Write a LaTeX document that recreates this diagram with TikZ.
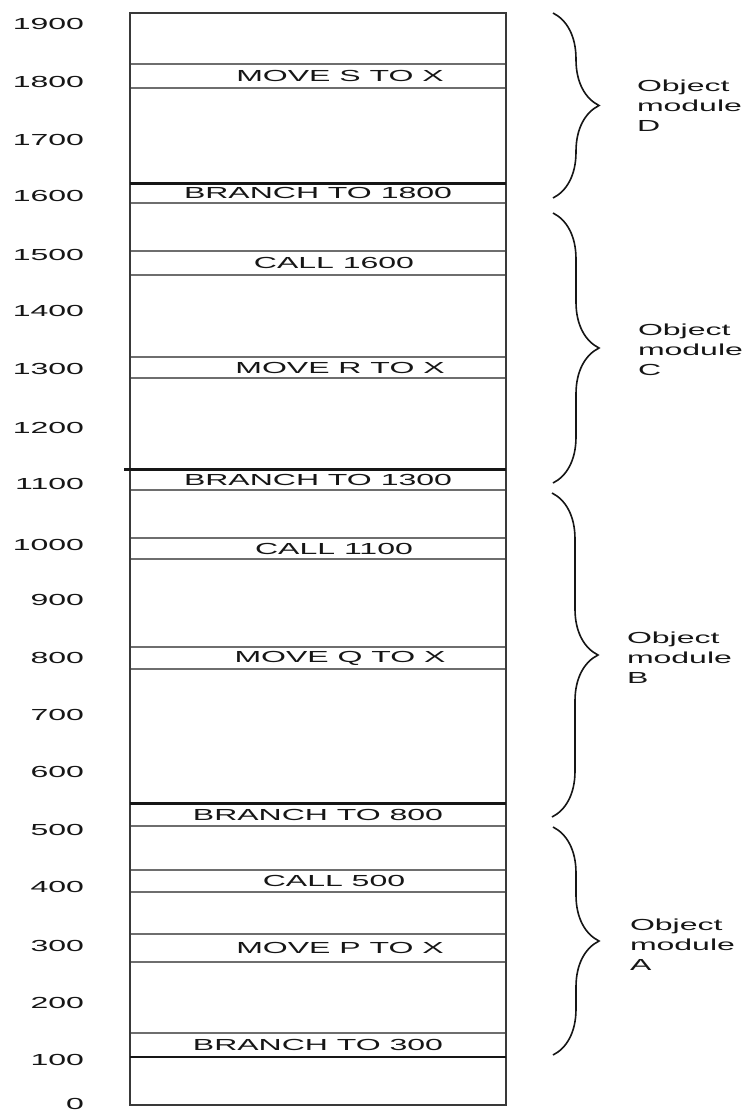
\documentclass[tikz,border=0pt]{standalone}
\usepackage{fontspec}
\setmainfont{Liberation Sans}
\usepackage{graphicx}
\usetikzlibrary{decorations.pathreplacing}
\definecolor{mapink}{HTML}{161616}
\definecolor{mapline}{HTML}{6E6E6E}
\newcommand{\wide}[1]{\scalebox{2}[1]{#1}}
\newcommand{\objmod}[1]{\wide{\begin{tabular}{@{}l@{}}Object\\module\\#1\end{tabular}}}

\begin{document}
\begin{tikzpicture}[
  x=1pt,y=-1pt,
  every node/.style={font=\fontsize{16}{20}\selectfont,text=mapink,inner sep=0pt,outer sep=0pt},
  slot/.style={draw=mapline,line width=1.8pt,minimum width=376pt,anchor=north west},
  colbox/.style={draw=mapink!85,line width=1.5pt,minimum width=376pt,minimum height=1092pt,anchor=north west},
  split/.style={draw=mapink,line width=3pt},
  tick/.style={anchor=east},
  modtext/.style={anchor=west},
  modbrace/.style={draw=mapink,line width=1.6pt,decorate,decoration={brace,amplitude=46pt}}
]
\fill[white] (0,0) rectangle (751,1112);
\useasboundingbox (0,0) rectangle (751,1112);

% address scale
\node[tick] (t1900) at (84,24) {\wide{1900}};
\node[tick] (t1800) at (84,82) {\wide{1800}};
\node[tick] (t1700) at (84,140) {\wide{1700}};
\node[tick] (t1600) at (84,196) {\wide{1600}};
\node[tick] (t1500) at (84,255) {\wide{1500}};
\node[tick] (t1400) at (84,311) {\wide{1400}};
\node[tick] (t1300) at (84,369) {\wide{1300}};
\node[tick] (t1200) at (84,428) {\wide{1200}};
\node[tick] (t1100) at (84,484) {\wide{1100}};
\node[tick] (t1000) at (84,545) {\wide{1000}};
\node[tick] (t900) at (84,600) {\wide{900}};
\node[tick] (t800) at (84,658) {\wide{800}};
\node[tick] (t700) at (84,715) {\wide{700}};
\node[tick] (t600) at (84,772) {\wide{600}};
\node[tick] (t500) at (84,830) {\wide{500}};
\node[tick] (t400) at (84,887) {\wide{400}};
\node[tick] (t300) at (84,946) {\wide{300}};
\node[tick] (t200) at (84,1003) {\wide{200}};
\node[tick] (t100) at (84,1060) {\wide{100}};
\node[tick] (t0) at (84,1104) {\wide{0}};

% instruction slots
\node[slot,minimum height=24pt] (moveS) at (130,64) {};
\node[slot,minimum height=20pt] (branchD) at (130,183) {};
\node[slot,minimum height=24pt] (callC) at (130,251) {};
\node[slot,minimum height=21pt] (moveR) at (130,357) {};
\node[slot,minimum height=21pt] (branchC) at (130,469) {};
\node[slot,minimum height=21pt] (callB) at (130,538) {};
\node[slot,minimum height=22pt] (moveQ) at (130,647) {};
\node[slot,minimum height=23pt] (branchB) at (130,803) {};
\node[slot,minimum height=22pt] (callA) at (130,870) {};
\node[slot,minimum height=28pt] (moveP) at (130,934) {};
\node[slot,minimum height=24pt] (branchA) at (130,1033) {};

\node[xshift=22pt] (moveS-txt) at (moveS) {\wide{MOVE S TO X}};
\node (branchD-txt) at (branchD) {\wide{BRANCH TO 1800}};
\node[xshift=16pt] (callC-txt) at (callC) {\wide{CALL 1600}};
\node[xshift=22pt] (moveR-txt) at (moveR) {\wide{MOVE R TO X}};
\node (branchC-txt) at (branchC) {\wide{BRANCH TO 1300}};
\node[xshift=16pt] (callB-txt) at (callB) {\wide{CALL 1100}};
\node[xshift=22pt] (moveQ-txt) at (moveQ) {\wide{MOVE Q TO X}};
\node (branchB-txt) at (branchB) {\wide{BRANCH TO 800}};
\node[xshift=16pt] (callA-txt) at (callA) {\wide{CALL 500}};
\node[xshift=22pt] (moveP-txt) at (moveP) {\wide{MOVE P TO X}};
\node (branchA-txt) at (branchA) {\wide{BRANCH TO 300}};

\node[colbox] (column) at (130,13) {};
\draw[draw=mapink,line width=1.5pt] (branchA.south west) -- (branchA.south east);

% module boundaries
\draw[split] (branchD.north west) -- (branchD.north east);
\draw[split] ([xshift=-6pt]branchC.north west) -- (branchC.north east);
\draw[split] (branchB.north west) -- (branchB.north east);

% object modules
\coordinate (Dtop) at (553,13);
\coordinate (Dbot) at (553,198);
\coordinate (Ctop) at (553,213);
\coordinate (Cbot) at (553,483);
\coordinate (Btop) at (552,493);
\coordinate (Bbot) at (552,817);
\coordinate (Atop) at (553,827);
\coordinate (Abot) at (553,1055);
\draw[modbrace] (Dtop) -- (Dbot);
\draw[modbrace] (Ctop) -- (Cbot);
\draw[modbrace] (Btop) -- (Bbot);
\draw[modbrace] (Atop) -- (Abot);

\node[modtext] (modD) at (637,107) {\objmod{D}};
\node[modtext] (modC) at (638,351) {\objmod{C}};
\node[modtext] (modB) at (627,659) {\objmod{B}};
\node[modtext] (modA) at (630,946) {\objmod{A}};
\end{tikzpicture}
\end{document}
